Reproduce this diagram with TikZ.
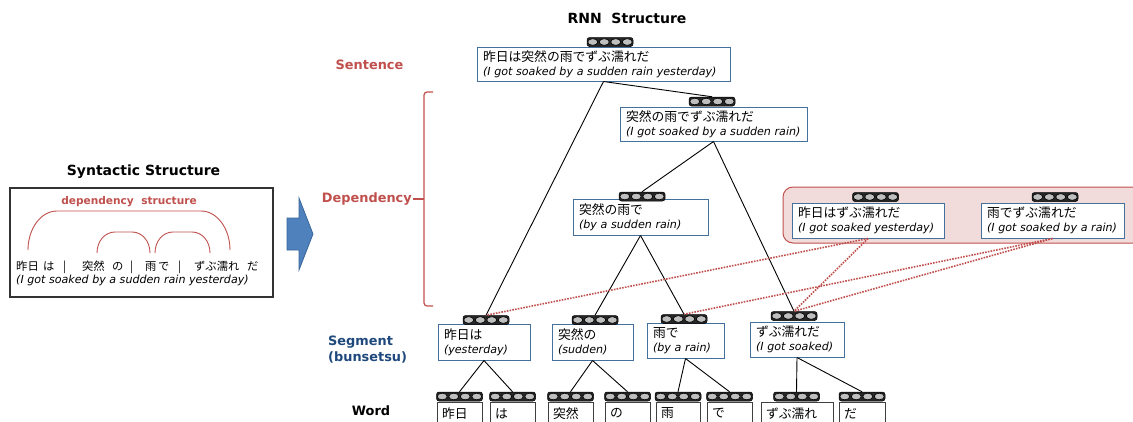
\documentclass[tikz,border=0pt]{standalone}
\usepackage{fontspec}
\setmainfont{DejaVu Sans}
\newfontfamily\jpf{Noto Sans CJK JP}
\definecolor{depred}{HTML}{C0504D}
\definecolor{pinkfill}{HTML}{F2DCDB}
\definecolor{boxblue}{HTML}{41719C}
\definecolor{segblue}{HTML}{1F497D}
\definecolor{arrowblue}{HTML}{4F81BD}
\definecolor{arrowedge}{HTML}{3A679C}
\definecolor{vecdark}{HTML}{262626}
\definecolor{vecgrey}{HTML}{BFBFBF}
\newcommand\jtxt[1]{{\fontsize{12.8}{14}\selectfont\jpf #1}}
\newcommand\etxt[1]{{\fontsize{11.1}{14}\selectfont\itshape #1}}
\begin{document}
\begin{tikzpicture}[x=1pt,y=-1pt,
  vecbar/.style={draw=black, fill=vecdark, rounded corners=2.5pt, minimum width=46pt, minimum height=9pt, inner sep=0pt, line width=0.5pt,
    path picture={\foreach \i in {0,1,2,3}{\draw[fill=vecgrey, line width=0.6pt] ([xshift=5.75pt+11.5pt*\i]path picture bounding box.west) ellipse (5pt and 3.3pt);}}},
  rnnbox/.style={draw=boxblue, line width=1pt, fill=white, inner xsep=6pt, inner ysep=2pt, align=left, font=\fontsize{11}{14}\selectfont},
  wordbox/.style={draw=black!75, line width=0.8pt, fill=white, inner xsep=5pt, inner ysep=0pt, align=left, anchor=north, minimum height=22pt, font=\fontsize{11}{14}\selectfont},
  tree/.style={draw=black, line width=0.9pt},
  redlink/.style={draw=depred, line width=1.6pt, dash pattern=on 1.6pt off 1.2pt},
  lbl/.style={font=\fontsize{12.9}{16}\selectfont\bfseries},
  ttl/.style={font=\fontsize{14}{16}\selectfont\bfseries}
]
\useasboundingbox (0,0) rectangle (1133,421);
\clip (0,0) rectangle (1133,421);

% ---------- left: syntactic structure ----------
\node[ttl] (syt) at (143.5,172) {Syntactic Structure};
\node[draw=black!80, line width=1.2pt, minimum width=263pt, minimum height=109pt, inner sep=0pt] (synbox) at (141.5,242.5) {};
\node[font=\fontsize{10.6}{12}\selectfont\bfseries, text=depred] (deps) at (129,202) {dependency\ \ structure};
\draw[depred, line width=0.9pt] (28,250) .. controls (28,228.5) and (41,211) .. (57,211) -- (201,211) .. controls (217,211) and (230,228.5) .. (230,250);
\draw[depred, line width=0.9pt] (97,253) .. controls (97,241) and (105,232) .. (115,232) -- (132,232) .. controls (142,232) and (150,241) .. (150,253);
\draw[depred, line width=0.9pt] (155,253) .. controls (155,241) and (163,232) .. (173,232) -- (192,232) .. controls (202,232) and (210,241) .. (210,253);
\node[anchor=base west, inner sep=0pt] (synjp) at (16,270) {\fontsize{11.3}{13}\selectfont\jpf
  \makebox[27pt][l]{昨日}\makebox[20pt][l]{は}\makebox[19pt][l]{|}\makebox[30pt][l]{突然}\makebox[18pt][l]{の}\makebox[15pt][l]{|}\makebox[13pt][l]{雨}\makebox[20pt][l]{で}\makebox[16pt][l]{|}\makebox[53pt][l]{ずぶ濡れ}だ};
\node[anchor=base west, inner sep=0pt] (synen) at (16,283) {\etxt{(I got soaked by a sudden rain yesterday)}};

% ---------- arrow ----------
\draw[draw=arrowedge, fill=arrowblue, line width=0.8pt] (287,218) -- (299,218) -- (299,198) -- (313,234) -- (299,270) -- (299,250) -- (287,250) -- cycle;

% ---------- level labels ----------
\node[lbl, text=depred] (sent) at (369.5,65) {Sentence};
\node[lbl, text=depred, anchor=east, inner xsep=1pt] (depl) at (413,199) {Dependency};
\coordinate (bracetip) at (424,199);
\draw[depred, line width=1.2pt, rounded corners=3pt] (433,92) -- (424,92) -- (424,306) -- (433,306);
\draw[depred, line width=1.2pt] (depl.east) -- (bracetip);
\node[lbl, text=segblue, anchor=west, align=left, inner xsep=0pt] (segl) at (328,350) {Segment\\(bunsetsu)};
\node[lbl] (wordl) at (371,411) {Word};

% ---------- RNN structure ----------
\node[ttl] (rnnt) at (627,18) {RNN\ \ Structure};

\node[draw=depred, fill=pinkfill, line width=1pt, rounded corners=10pt, minimum width=362pt, minimum height=56pt, inner sep=0pt] (grp) at (964,215) {};

\node[rnnbox, text width=241pt, minimum height=34pt] (T) at (603.5,64) {\jtxt{昨日は突然の雨でずぶ濡れだ}\\\etxt{(I got soaked by a sudden rain yesterday)}};
\node[vecbar] (vT) at (610,42) {};
\node[rnnbox, text width=175pt, minimum height=34pt] (N2) at (713.5,124) {\jtxt{突然の雨でずぶ濡れだ}\\\etxt{(I got soaked by a sudden rain)}};
\node[vecbar] (vN2) at (712,101.5) {};
\node[rnnbox, text width=123pt, minimum height=36pt] (N3) at (640.5,217) {\jtxt{突然の雨で}\\\etxt{(by a sudden rain)}};
\node[vecbar] (vN3) at (642,196.5) {};
\node[rnnbox, text width=140pt, minimum height=35pt] (N4) at (868,220.5) {\jtxt{昨日はずぶ濡れだ}\\\etxt{(I got soaked yesterday)}};
\node[vecbar] (vN4) at (875.5,197) {};
\node[rnnbox, text width=131pt, minimum height=35pt] (N5) at (1052.5,220.5) {\jtxt{雨でずぶ濡れだ}\\\etxt{(I got soaked by a rain)}};
\node[vecbar] (vN5) at (1055,197) {};

\node[rnnbox, text width=80pt, minimum height=36pt] (S1) at (484,342) {\jtxt{昨日は}\\\etxt{(yesterday)}};
\node[vecbar] (vS1) at (486,320) {};
\node[rnnbox, text width=69pt, minimum height=36pt] (S2) at (592.5,342) {\jtxt{突然の}\\\etxt{(sudden)}};
\node[vecbar] (vS2) at (595,320) {};
\node[rnnbox, text width=65pt, minimum height=35pt] (S3) at (685.5,340.5) {\jtxt{雨で}\\\etxt{(by a rain)}};
\node[vecbar] (vS3) at (684,319) {};
\node[rnnbox, text width=82pt, minimum height=35pt] (S4) at (797,339.5) {\jtxt{ずぶ濡れだ}\\\etxt{(I got soaked)}};
\node[vecbar] (vS4) at (794,316) {};

\node[wordbox, text width=35pt] (W1) at (459.5,402) {\jtxt{昨日}};
\node[vecbar] (vW1) at (459.5,396.5) {};
\node[wordbox, text width=35pt] (W2) at (512.5,402) {\jtxt{は}};
\node[vecbar] (vW2) at (512.5,396.5) {};
\node[wordbox, text width=35pt] (W3) at (570.5,402) {\jtxt{突然}};
\node[vecbar] (vW3) at (570.5,396.5) {};
\node[wordbox, text width=35pt] (W4) at (627.5,402) {\jtxt{の}};
\node[vecbar] (vW4) at (627.5,396.5) {};
\node[wordbox, text width=34pt] (W5) at (678,402) {\jtxt{雨}};
\node[vecbar] (vW5) at (678,396.5) {};
\node[wordbox, text width=35pt] (W6) at (729.5,402) {\jtxt{で}};
\node[vecbar] (vW6) at (729.5,396.5) {};
\node[wordbox, text width=62pt] (W7) at (797,402) {\jtxt{ずぶ濡れ}};
\node[vecbar] (vW7) at (796.5,396.5) {};
\node[wordbox, text width=36pt] (W8) at (862,402) {\jtxt{だ}};
\node[vecbar] (vW8) at (862,396.5) {};

% ---------- connectors ----------
\draw[tree] (T.south) -- (vS1.north);
\draw[tree] (T.south) -- (vN2.north);
\draw[tree] (N2.south) -- (vN3.north);
\draw[tree] (N2.south) -- (vS4.north);
\draw[tree] (N3.south) -- (vS2.north);
\draw[tree] (N3.south) -- (vS3.north);
\draw[tree] (S1.south) -- (vW1.north);
\draw[tree] (S1.south) -- (vW2.north);
\draw[tree] (S2.south) -- (vW3.north);
\draw[tree] (S2.south) -- (vW4.north);
\draw[tree] (S3.south) -- (vW5.north);
\draw[tree] (S3.south) -- (vW6.north);
\draw[tree] (S4.south) -- (vW7.north);
\draw[tree] (S4.south) -- (vW8.north);

\draw[redlink] (N4.south) -- (vS1.north);
\draw[redlink] (N4.south) -- (vS4.north);
\draw[redlink] (N5.south) -- (vS3.north);
\draw[redlink] (N5.south) -- (vS4.north);
\end{tikzpicture}
\end{document}
